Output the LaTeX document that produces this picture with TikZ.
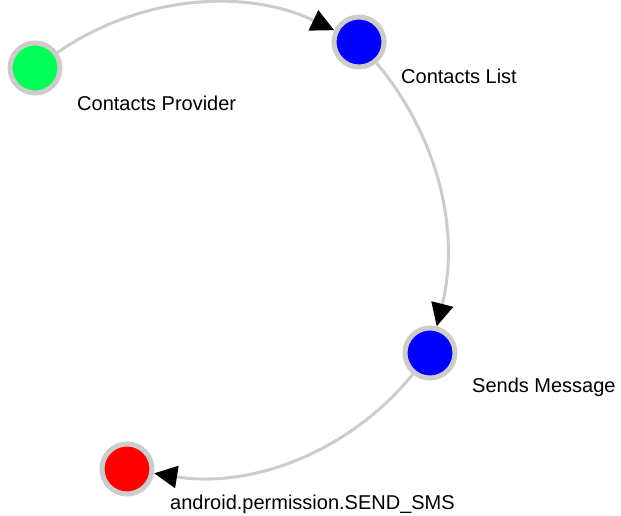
\documentclass[tikz,border=0pt]{standalone}
\usepackage{fontspec}
\setmainfont{Liberation Sans}
\usetikzlibrary{arrows.meta}
\definecolor{ring}{HTML}{CCCCCC}
\definecolor{ngreen}{HTML}{00FF55}
\definecolor{nblue}{HTML}{0000FF}
\definecolor{nred}{HTML}{FF0000}
\begin{document}
\begin{tikzpicture}[x=1pt,y=1pt,
  vert/.style={circle,draw=ring,line width=5pt,minimum size=50pt,inner sep=0pt},
  lbl/.style={anchor=west,inner sep=0pt,font=\fontsize{20}{24}\selectfont},
  edge/.style={draw=ring,line width=3pt,bend left=30,looseness=0.92,
    -{Triangle[length=23pt,width=22pt,color=black]}}]
\useasboundingbox (0,0) rectangle (621,516);
\node[vert,fill=ngreen] (cp) at (35,448) {};
\node[vert,fill=nblue] (cl) at (359,474) {};
\node[vert,fill=nblue] (sm) at (430,163) {};
\node[vert,fill=nred] (sms) at (127,47) {};
\node[lbl] (lcp) at ([shift={(42,-35)}]cp.center) {Contacts Provider};
\node[lbl] (lcl) at ([shift={(42,-34)}]cl.center) {Contacts List};
\node[lbl] (lsm) at ([shift={(42,-34)}]sm.center) {Sends Message};
\node[lbl] (lsms) at ([shift={(43,-35)}]sms.center) {android.permission.SEND\_SMS};
\draw[edge] (cp) to (cl);
\draw[edge,bend left=27] (cl) to (sm);
\draw[edge] (sm) to (sms);
\end{tikzpicture}
\end{document}
